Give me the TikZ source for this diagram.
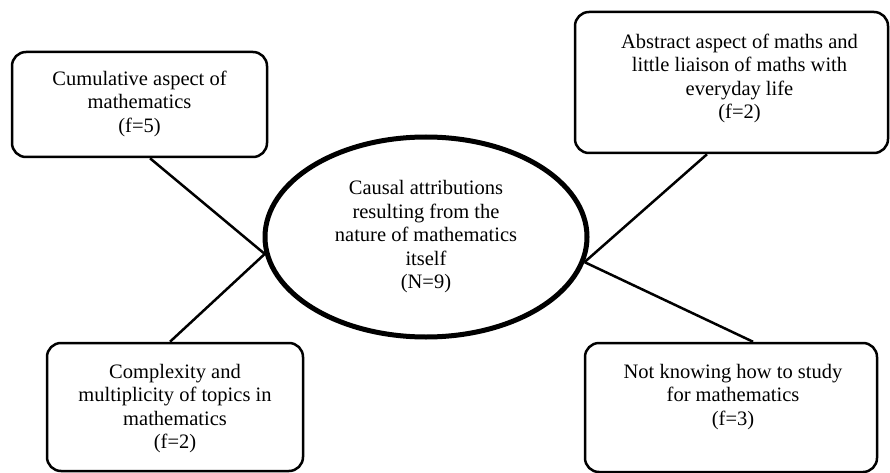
\documentclass[tikz,border=0pt]{standalone}
\usepackage{fontspec}
\setmainfont{Liberation Serif}
\usetikzlibrary{shapes.geometric}
\begin{document}
\begin{tikzpicture}[x=1pt,y=-1pt,
  box/.style={draw=black, line width=2.5pt, rounded corners=14pt, inner sep=0pt},
  txt/.style={align=center, inner sep=0pt, font=\fontsize{20.5}{23.5}\selectfont},
  hub/.style={draw=black, line width=5pt, ellipse, inner sep=0pt, align=center,
    minimum width=322pt, minimum height=200pt, font=\fontsize{20.5}{23.5}\selectfont},
  link/.style={draw=black, line width=2.5pt}]
\useasboundingbox (0,0) rectangle (890,473);
% boxes
\node[box, minimum width=255pt, minimum height=105pt] (b1) at (139.5,104.5) {};
\node[box, minimum width=313pt, minimum height=141pt] (b2) at (731.5,82.5) {};
\node[box, minimum width=256pt, minimum height=128pt] (b3) at (175,407) {};
\node[box, minimum width=292pt, minimum height=129pt] (b4) at (731,407.5) {};
% texts
\node[txt, anchor=north] (t1) at ([yshift=-20pt]b1.north) {Cumulative aspect of\\mathematics\\(f=5)};
\node[txt, anchor=north] (t2) at ([xshift=8pt,yshift=-23pt]b2.north) {Abstract aspect of maths and\\little liaison of maths with\\everyday life\\(f=2)};
\node[txt, anchor=north] (t3) at ([yshift=-22pt]b3.north) {Complexity and\\multiplicity of topics in\\mathematics\\(f=2)};
\node[txt, anchor=north] (t4) at ([xshift=2pt,yshift=-22pt]b4.north) {Not knowing how to study\\for mathematics\\(f=3)};
% central ellipse
\node[hub] (c) at (426,237) {Causal attributions\\resulting from the\\nature of mathematics\\itself\\(N=9)};
% connectors
\draw[link] ([xshift=10.5pt]b1.south) -- (c.186);
\draw[link] ([xshift=-5pt]b3.north) -- (c.186);
\draw[link] ([xshift=-24.5pt]b2.south) -- (c.351);
\draw[link] ([xshift=22pt]b4.north) -- (c.351);
\end{tikzpicture}
\end{document}
